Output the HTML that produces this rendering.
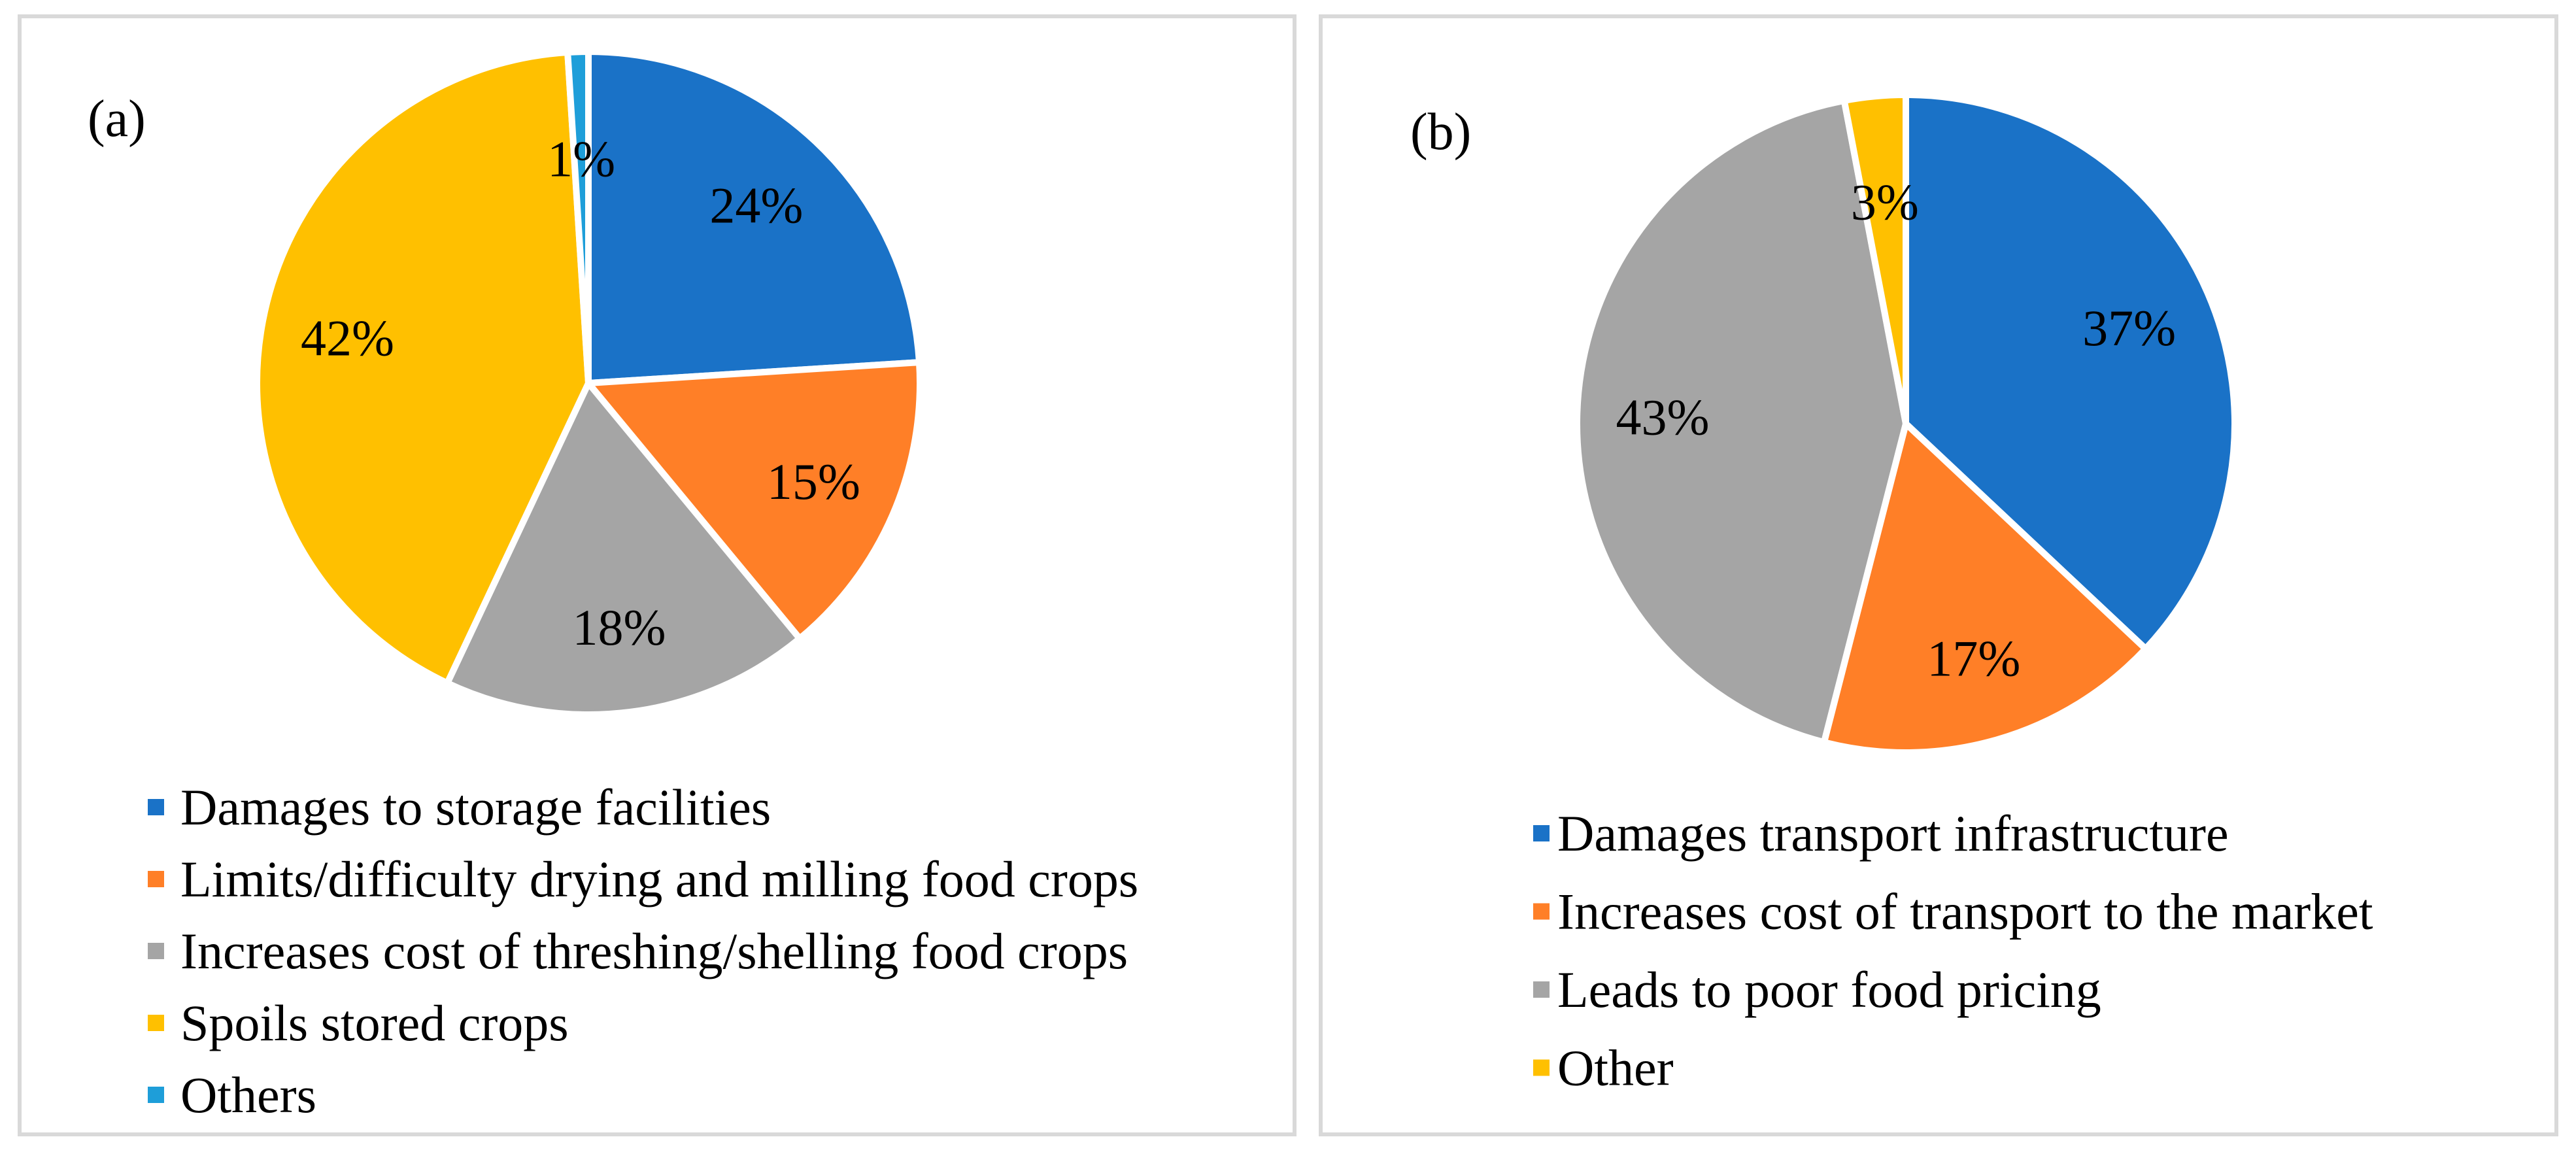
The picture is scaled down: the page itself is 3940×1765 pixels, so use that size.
<!DOCTYPE html>
<html><head><meta charset="utf-8"><style>
html,body{margin:0;padding:0;background:#fff}
svg{display:block}
text{font-family:"Liberation Serif",serif;fill:#000}
</style></head><body>
<svg id="chart" width="3940" height="1765" viewBox="0 0 3940 1765" xmlns="http://www.w3.org/2000/svg">
<rect x="30" y="25" width="1950" height="1710" fill="#fff" stroke="#D9D9D9" stroke-width="6"/>
<rect x="2020" y="25" width="1890" height="1710" fill="#fff" stroke="#D9D9D9" stroke-width="6"/>
<text x="134" y="208" font-size="80">(a)</text>
<text x="2157" y="228" font-size="80">(b)</text>
<g id="pieA"></g><g id="pieB"></g>
<g id="legA"></g><g id="legB"></g>
</svg>
<script>
const catsA = ["Damages to storage facilities","Limits/difficulty drying and milling food crops","Increases cost of threshing/shelling food crops","Spoils stored crops","Others"];
const valsA = [24,15,18,42,1];
const catsB = ["Damages transport infrastructure","Increases cost of transport to the market","Leads to poor food pricing","Other"];
const valsB = [37,17,43,3];
const colorsA = ["#1A72C7","#FF7F27","#A5A5A5","#FFC000","#1E9ED9"];
const colorsB = ["#1A72C7","#FF7F27","#A5A5A5","#FFC000"];
const NS="http://www.w3.org/2000/svg";
function mk(tag,attrs,parent){const e=document.createElementNS(NS,tag);for(const k in attrs)e.setAttribute(k,attrs[k]);parent.appendChild(e);return e;}
function pie(g,vals,colors,cx,cy,r,key){
  const tot=vals.reduce((a,b)=>a+b,0);let a0=0;
  vals.forEach((v,i)=>{
    const a1=a0+v/tot*2*Math.PI;
    const x0=cx+r*Math.sin(a0),y0=cy-r*Math.cos(a0),x1=cx+r*Math.sin(a1),y1=cy-r*Math.cos(a1);
    const large=(a1-a0)>Math.PI?1:0;
    const p=mk('path',{d:`M${cx},${cy}L${x0},${y0}A${r},${r} 0 ${large} 1 ${x1},${y1}Z`,fill:colors[i],stroke:'#fff','stroke-width':10,'stroke-linejoin':'round'},g);
    
    
    const am=(a0+a1)/2, lr=r*(v<5?0.68:0.74);
    const t=mk('text',{x:cx+lr*Math.sin(am),y:cy-lr*Math.cos(am)+28,'font-size':78,'text-anchor':'middle'},g);
    t.textContent=v+'%';
    
    
    a0=a1;
  });
}
function legend(g,cats,colors,mx,tx,y0,dy,key){
  cats.forEach((c,i)=>{
    const y=y0+i*dy;
    const r=mk('rect',{x:mx,y:y-12,width:25,height:25,fill:colors[i]},g);
    
    
    const t=mk('text',{x:tx,y:y+27,'font-size':78},g);
    t.textContent=c;
    
    
  });
}
pie(document.getElementById('pieA'),valsA,colorsA,900,586,507,'pie-a');
pie(document.getElementById('pieB'),valsB,colorsB,2915,648,503,'pie-b');
legend(document.getElementById('legA'),catsA,colorsA,226,276,1234,110,'a');
legend(document.getElementById('legB'),catsB,colorsB,2345,2382,1274,119.5,'b');
</script>
</body></html>
